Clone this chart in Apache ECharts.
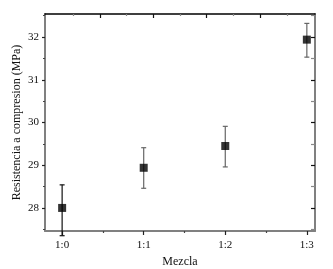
<!DOCTYPE html>
<html>
<head>
<meta charset="utf-8">
<script src="https://cdn.jsdelivr.net/npm/echarts@6/dist/echarts.min.js"></script>
<style>
  html, body { margin: 0; padding: 0; background: #fff; }
  #chart { width: 333px; height: 269px; }
</style>
</head>
<body>
<div id="chart"></div>
<script>
// mezcla ratios and compressive strength (MPa)
var categories = ['1:0', '1:1', '1:2', '1:3'];
var xPos = [0, 1, 2, 3];
var means = [28.0, 28.94, 29.45, 31.94];
var errLow = [27.35, 28.46, 28.96, 31.53];
var errHigh = [28.54, 29.41, 29.91, 32.32];
var yMajor = [28, 29, 30, 31, 32];
var yMinor = [27.5, 28.5, 29.5, 30.5, 31.5, 32.5];
var xMinor = [0.5, 1.5, 2.5];
// the top frame carries its own tick spacing
var topMajor = [2, 4, 6, 8];
var topMinor = [1, 3, 5, 7, 9];

var font = 'Liberation Serif';
var frameGray = '#808080';
var chart = echarts.init(document.getElementById('chart'));

var xRange = { min: -0.21, max: 3.1 };
var topRange = { min: -0.05, max: 10.05 };
var yRange = { min: 27.46, max: 32.54 };

function tickAxis(base, pos, lineColor, lineW, vals, len, inside, tickColor) {
  return Object.assign({
    type: 'value',
    position: pos,
    axisLine: { show: lineColor != null, onZero: false, lineStyle: { color: lineColor || '#000', width: lineW } },
    axisTick: { show: true, inside: inside, length: len, customValues: vals, lineStyle: { color: tickColor, width: 1.2 } },
    axisLabel: { show: false },
    splitLine: { show: false }
  }, base);
}

chart.setOption({
  animation: false,
  grid: { left: 45, right: 18, top: 14, bottom: 38, containLabel: false, outerBoundsMode: 'none' },
  xAxis: [
    Object.assign({
      type: 'value',
      position: 'bottom',
      name: 'Mezcla',
      nameLocation: 'middle',
      nameGap: 25,
      nameMoveOverlap: false,
      nameTextStyle: { fontFamily: font, fontSize: 12, color: '#111' },
      axisLine: { onZero: false, lineStyle: { color: frameGray, width: 2 } },
      axisTick: { inside: false, length: 4, customValues: xPos, lineStyle: { color: '#222', width: 1.2 } },
      axisLabel: {
        customValues: xPos,
        margin: 9,
        fontFamily: font, fontSize: 11, color: '#111',
        formatter: function (v) { return categories[Math.round(v)]; }
      },
      splitLine: { show: false }
    }, xRange),
    tickAxis(xRange, 'bottom', null, 1, xMinor, 2, false, '#444'),
    tickAxis(topRange, 'top', '#000', 1.5, topMajor, 4, true, '#111'),
    tickAxis(topRange, 'top', null, 1, topMinor, 2, true, '#888')
  ],
  yAxis: [
    Object.assign({
      type: 'value',
      position: 'left',
      name: 'Resistencia a compresion (MPa)',
      nameLocation: 'middle',
      nameGap: 22,
      nameMoveOverlap: false,
      nameTextStyle: { fontFamily: font, fontSize: 12, color: '#111' },
      axisLine: { onZero: false, lineStyle: { color: frameGray, width: 2 } },
      axisTick: { inside: false, length: 3, customValues: yMajor, lineStyle: { color: '#222', width: 1.2 } },
      axisLabel: { customValues: yMajor, margin: 6, fontFamily: font, fontSize: 11, color: '#111' },
      splitLine: { show: false }
    }, yRange),
    tickAxis(yRange, 'left', null, 1, yMinor, 2, false, '#444'),
    tickAxis(yRange, 'right', frameGray, 2, yMajor, 4, true, '#111'),
    tickAxis(yRange, 'right', null, 1, yMinor, 4, true, '#888')
  ],
  series: [
    {
      type: 'custom',
      xAxisIndex: 0,
      yAxisIndex: 0,
      clip: false,
      data: xPos.map(function (x, i) { return [x, errLow[i], errHigh[i]]; }),
      renderItem: function (params, api) {
        var lo = api.coord([api.value(0), api.value(1)]);
        var hi = api.coord([api.value(0), api.value(2)]);
        var w = 2.5;
        var st = { stroke: params.dataIndex === 0 ? '#111' : '#666', lineWidth: 1.2 };
        return {
          type: 'group',
          children: [
            { type: 'line', shape: { x1: lo[0], y1: lo[1], x2: hi[0], y2: hi[1] }, style: st },
            { type: 'line', shape: { x1: lo[0] - w, y1: lo[1], x2: lo[0] + w, y2: lo[1] }, style: st },
            { type: 'line', shape: { x1: hi[0] - w, y1: hi[1], x2: hi[0] + w, y2: hi[1] }, style: st }
          ]
        };
      },
      z: 2
    },
    {
      type: 'scatter',
      xAxisIndex: 0,
      yAxisIndex: 0,
      symbol: 'rect',
      symbolSize: 8,
      itemStyle: { color: '#000' },
      data: xPos.map(function (x, i) { return [x, means[i]]; }),
      z: 3
    }
  ]
});
</script>
</body>
</html>
